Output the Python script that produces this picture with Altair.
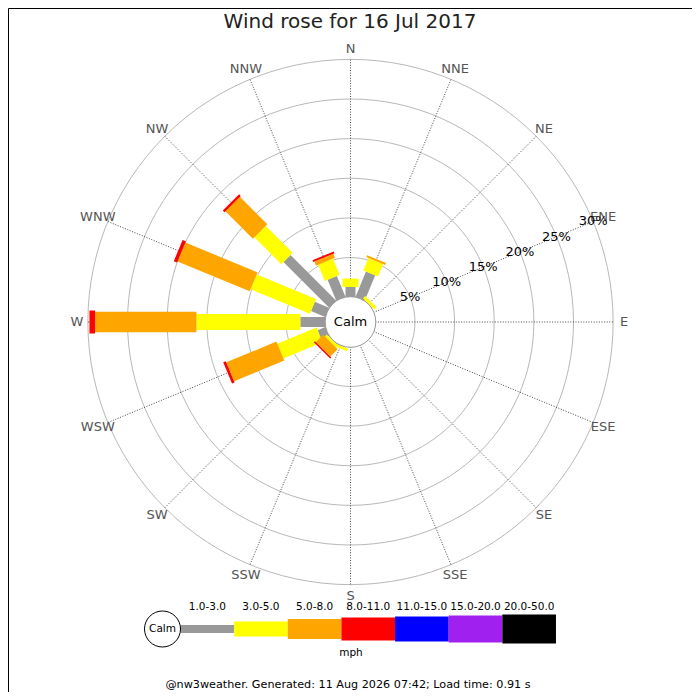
import altair as alt
import pandas as pd

# ---------------- data (percent of time per direction & speed band) ----------------
DIRS = ["N", "NNE", "NE", "ENE", "E", "ESE", "SE", "SSE",
        "S", "SSW", "SW", "WSW", "W", "WNW", "NW", "NNW"]
BANDS = ["1.0-3.0", "3.0-5.0", "5.0-8.0", "8.0-11.0", "11.0-15.0", "15.0-20.0", "20.0-50.0"]
COLORS = ["#999999", "#ffff00", "#ffa500", "#ff0000", "#0000ff", "#a020f0", "#000000"]

P_1_3 = [1.3, 3.5, 0.1, 0, 0, 0, 0, 0, 0, 0.1, 0.1, 1.1, 3.2, 2.0, 8.2, 2.9]
P_3_5 = [1.05, 1.7, 0.4, 0, 0, 0, 0, 0, 0, 0.35, 0.35, 5.35, 13.1, 8.1, 4.8, 2.2]
P_5_8 = [0, 0.25, 0, 0, 0, 0, 0, 0, 0, 0, 1.3, 6.85, 12.8, 9.85, 4.9, 0.55]
P_8_11 = [0, 0, 0, 0, 0, 0, 0, 0, 0, 0, 0.2, 0.35, 0.7, 0.45, 0.3, 0.25]
P_11_15 = [0, 0, 0, 0, 0, 0, 0, 0, 0, 0, 0, 0, 0, 0, 0, 0]
P_15_20 = [0, 0, 0, 0, 0, 0, 0, 0, 0, 0, 0, 0, 0, 0, 0, 0]
P_20_50 = [0, 0, 0, 0, 0, 0, 0, 0, 0, 0, 0, 0, 0, 0, 0, 0]
SERIES = [P_1_3, P_3_5, P_5_8, P_8_11, P_11_15, P_15_20, P_20_50]

RING_TICKS = [5, 10, 15, 20, 25, 30]
TITLE = "Wind rose for 16 Jul 2017"
UNIT = "mph"
FOOTER = "@nw3weather. Generated: 11 Aug 2026 07:42; Load time: 0.91 s"

# ---------------- layout / style ----------------
W, H = 684, 684
CX, CY = 342.5, 314.0          # polar centre in plot pixels
K = 7.928                       # pixels per percent
OFF = 24.8 / K                  # 0 % sits on the calm circle
LABEL_R = 273.5 / K
ROSE_W = [10, 16, 20.5, 23, 25, 27, 29]
LEG_W = [8, 15, 20, 23, 25, 27, 29]
FONT = "DejaVu Sans"

xs = alt.Scale(domain=[-CX / K, (W - CX) / K], nice=False, zero=False)
ys = alt.Scale(domain=[-(H - CY) / K, CY / K], nice=False, zero=False)
color = alt.Color("band:N", scale=alt.Scale(domain=BANDS, range=COLORS), legend=None)


def X(f):
    return alt.X(f, type="quantitative", scale=xs, axis=None)


def Y(f):
    return alt.Y(f, type="quantitative", scale=ys, axis=None)


# ---------------- tables ----------------
rows = []
for bi, (band, ser) in enumerate(zip(BANDS, SERIES)):
    for di, (d, v) in enumerate(zip(DIRS, ser)):
        rows.append({"dir": d, "deg": di * 22.5, "band": band, "bi": bi, "pct": v})
rose_df = pd.DataFrame(rows)

dir_df = pd.DataFrame({"dir": DIRS, "deg": [i * 22.5 for i in range(len(DIRS))]})

ring_rows = []
for t in RING_TICKS:
    for s in range(0, 361, 3):
        ring_rows.append({"ring": t, "step": s})
ring_df = pd.DataFrame(ring_rows)

tick_df = pd.DataFrame({"t": RING_TICKS})
centre_df = pd.DataFrame({"c": ["Calm"], "x": [0.0], "y": [0.0]})

# ---------------- rose layers ----------------
rings = alt.Chart(ring_df).transform_calculate(
    x=f"(datum.ring + {OFF}) * sin(datum.step * PI / 180)",
    y=f"(datum.ring + {OFF}) * cos(datum.step * PI / 180)",
).mark_line(color="#b8b8b8", strokeWidth=1).encode(
    x=X("x"), y=Y("y"), detail="ring:N", order="step:Q",
)

RMAX = max(RING_TICKS) + OFF
spokes = alt.Chart(dir_df).transform_calculate(
    a="datum.deg * PI / 180",
).transform_calculate(
    x0=f"{OFF} * sin(datum.a)", y0=f"{OFF} * cos(datum.a)",
    x1=f"{RMAX} * sin(datum.a)", y1=f"{RMAX} * cos(datum.a)",
).mark_rule(color="#333333", strokeWidth=0.9, strokeDash=[1, 1.6]).encode(
    x=X("x0"), y=Y("y0"), x2="x1:Q", y2="y1:Q",
)

bars = alt.Chart(rose_df).transform_stack(
    stack="pct", groupby=["dir"], as_=["p0", "p1"], sort=[alt.SortField("bi", "ascending")]
).transform_filter("datum.pct > 0").transform_calculate(
    a="datum.deg * PI / 180",
).transform_calculate(
    x0=f"(datum.p0 + {OFF}) * sin(datum.a)", y0=f"(datum.p0 + {OFF}) * cos(datum.a)",
    x1=f"(datum.p1 + {OFF}) * sin(datum.a)", y1=f"(datum.p1 + {OFF}) * cos(datum.a)",
).mark_rule(strokeCap="butt").encode(
    x=X("x0"), y=Y("y0"), x2="x1:Q", y2="y1:Q",
    color=color,
    strokeWidth=alt.StrokeWidth(
        "band:N", scale=alt.Scale(type="ordinal", domain=BANDS, range=ROSE_W), legend=None),
)

calm = alt.Chart(centre_df).mark_point(
    shape="circle", filled=True, fill="white", stroke="#999999", strokeWidth=1,
    fillOpacity=1, strokeOpacity=1, opacity=1, size=(2 * 25.3) ** 2,
).encode(x=X("x"), y=Y("y"))

calm_text = alt.Chart(centre_df).mark_text(
    font=FONT, fontSize=13, color="black", align="center", baseline="middle",
).encode(x=X("x"), y=Y("y"), text="c:N")

dir_labels = alt.Chart(dir_df).transform_calculate(
    x=f"{LABEL_R} * sin(datum.deg * PI / 180)",
    y=f"{LABEL_R} * cos(datum.deg * PI / 180)",
).mark_text(font=FONT, fontSize=13, color="#555555", align="center", baseline="middle").encode(
    x=X("x"), y=Y("y"), text="dir:N",
)

pct_labels = alt.Chart(tick_df).transform_calculate(
    x=f"(datum.t + {OFF}) * sin(67.5 * PI / 180)",
    y=f"(datum.t + {OFF}) * cos(67.5 * PI / 180)",
    lab="datum.t + '%'",
).mark_text(font=FONT, fontSize=13, color="black", align="center", baseline="middle").encode(
    x=X("x"), y=Y("y"), text="lab:N",
)

# ---------------- legend (positions converted to the same unit space) ----------------
LX0, SEG, LY = 172.5, 53.64, 621.0
leg_df = pd.DataFrame({"band": BANDS, "bi": list(range(len(BANDS))), "th": LEG_W})
leg_base = alt.Chart(leg_df).transform_calculate(
    lx0=f"({LX0} + datum.bi * {SEG} - {CX}) / {K}",
    lx1=f"({LX0} + (datum.bi + 1) * {SEG} - {CX}) / {K}",
    lxc=f"({LX0} + (datum.bi + 0.5) * {SEG} - {CX}) / {K}",
    ly0=f"({CY} - {LY} + datum.th / 2) / {K}",
    ly1=f"({CY} - {LY} - datum.th / 2) / {K}",
)
leg_rects = leg_base.mark_rect().encode(
    x=X("lx0"), x2="lx1:Q", y=Y("ly0"), y2="ly1:Q", color=color,
)
leg_text = leg_base.mark_text(font=FONT, fontSize=10.5, color="black", align="center",
                              baseline="middle").encode(
    x=X("lxc"), y=alt.value(599), text="band:N",
)
leg_calm = alt.Chart(centre_df).mark_point(
    shape="circle", filled=True, fill="white", stroke="black", strokeWidth=1,
    fillOpacity=1, strokeOpacity=1, opacity=1, size=36 ** 2,
).encode(x=alt.value(154.5), y=alt.value(LY))
leg_calm_t = alt.Chart(centre_df).mark_text(
    font=FONT, fontSize=10.5, color="black", align="center", baseline="middle",
).encode(x=alt.value(154.5), y=alt.value(LY), text="c:N")


def label(txt, x, y, size, col="black"):
    return alt.Chart(pd.DataFrame({"t": [txt]})).mark_text(
        font=FONT, fontSize=size, color=col, align="center", baseline="middle",
    ).encode(x=alt.value(x), y=alt.value(y), text="t:N")


chart = alt.layer(
    rings, spokes, bars, calm, calm_text, dir_labels, pct_labels,
    leg_rects, leg_text, leg_calm, leg_calm_t,
    label(TITLE, 342, 14, 20, "#222222"),
    label(UNIT, 343, 645, 10.5),
    label(FOOTER, 340, 677, 11.2),
).properties(
    width=W, height=H, padding=0, autosize=alt.AutoSizeParams(type="none"),
    background="white",
).configure_view(stroke="black", strokeWidth=1)

chart.save("out.html", embed_options={"renderer": "svg", "actions": False})
